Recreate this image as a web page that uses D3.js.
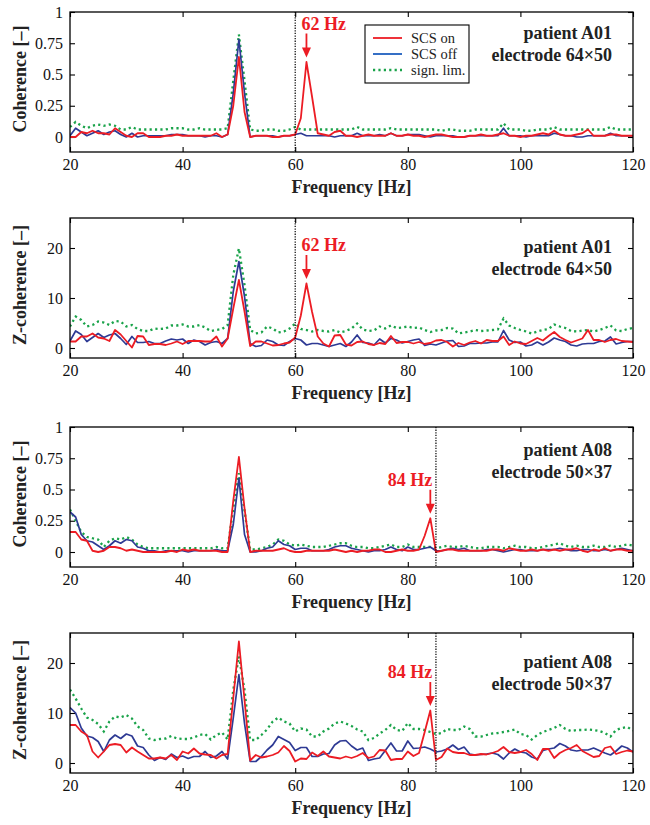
<!DOCTYPE html>
<html>
<head>
<meta charset="utf-8">
<script src="https://cdn.jsdelivr.net/npm/d3@7"></script>
<style>
  body { margin: 0; background: #fff; }
  text { font-family: "Liberation Serif", "Times New Roman", serif; }
</style>
</head>
<body>
<svg id="chart" width="650" height="825"></svg>
<script>
// frequency axis, 1 Hz bins
var freqs = d3.range(20, 121);
var freqTicks = [20, 40, 60, 80, 100, 120];
var cohTicks = [0, 0.25, 0.5, 0.75, 1];
var zTicks = [0, 10, 20];
var legendLabels = ["SCS on", "SCS off", "sign. lim."];

// patient A01, coherence
var cohA01On = [
  0.00, 0.00, 0.04, 0.03, 0.05, 0.03, 0.03, 0.02, 0.07, 0.04,
  0.01, 0.00, 0.03, 0.03, 0.00, 0.00, 0.00, 0.01, 0.01, 0.02,
  0.01, 0.01, 0.01, 0.01, 0.01, 0.01, 0.03, 0.00, 0.02, 0.25,
  0.64, 0.20, 0.00, 0.01, 0.01, 0.01, 0.00, 0.00, 0.01, 0.01,
  0.02, 0.15, 0.60, 0.32, 0.03, 0.02, 0.01, 0.04, 0.05, 0.01,
  0.01, 0.00, 0.01, 0.02, 0.01, 0.01, 0.01, 0.03, 0.01, 0.01,
  0.02, 0.01, 0.01, 0.00, 0.01, 0.02, 0.02, 0.01, 0.00, 0.00,
  0.00, 0.01, 0.01, 0.02, 0.01, 0.01, 0.02, 0.03, 0.01, 0.01,
  0.00, 0.01, 0.01, 0.02, 0.03, 0.02, 0.05, 0.02, 0.01, 0.01,
  0.02, 0.03, 0.06, 0.01, 0.01, 0.01, 0.02, 0.02, 0.01, 0.01,
  0.01];
var cohA01Off = [
  0.01, 0.07, 0.04, 0.01, 0.03, 0.05, 0.02, 0.04, 0.05, 0.02,
  0.00, 0.03, 0.00, 0.01, 0.01, 0.01, 0.01, 0.01, 0.02, 0.02,
  0.02, 0.01, 0.01, 0.01, 0.00, 0.01, 0.01, 0.00, 0.02, 0.35,
  0.78, 0.35, 0.00, 0.01, 0.01, 0.01, 0.01, 0.00, 0.01, 0.01,
  0.02, 0.03, 0.01, 0.01, 0.01, 0.01, 0.01, 0.00, 0.01, 0.01,
  0.01, 0.03, 0.01, 0.01, 0.01, 0.02, 0.01, 0.03, 0.01, 0.01,
  0.02, 0.02, 0.02, 0.01, 0.00, 0.01, 0.01, 0.01, 0.01, 0.00,
  0.00, 0.01, 0.01, 0.01, 0.01, 0.01, 0.01, 0.07, 0.01, 0.01,
  0.01, 0.00, 0.01, 0.01, 0.01, 0.01, 0.03, 0.02, 0.01, 0.01,
  0.00, 0.00, 0.01, 0.01, 0.01, 0.01, 0.03, 0.01, 0.01, 0.01,
  0.01];
var cohA01Lim = [
  0.08, 0.12, 0.09, 0.07, 0.09, 0.10, 0.09, 0.10, 0.09, 0.06,
  0.06, 0.08, 0.06, 0.06, 0.06, 0.06, 0.06, 0.06, 0.07, 0.07,
  0.07, 0.06, 0.06, 0.07, 0.06, 0.06, 0.06, 0.06, 0.07, 0.45,
  0.82, 0.45, 0.06, 0.05, 0.05, 0.06, 0.06, 0.05, 0.05, 0.06,
  0.08, 0.06, 0.06, 0.06, 0.06, 0.06, 0.06, 0.06, 0.06, 0.06,
  0.06, 0.08, 0.06, 0.06, 0.06, 0.06, 0.06, 0.07, 0.06, 0.06,
  0.06, 0.06, 0.06, 0.06, 0.06, 0.06, 0.05, 0.06, 0.06, 0.05,
  0.05, 0.05, 0.06, 0.06, 0.06, 0.06, 0.06, 0.11, 0.06, 0.06,
  0.06, 0.05, 0.05, 0.06, 0.06, 0.06, 0.08, 0.06, 0.06, 0.06,
  0.06, 0.06, 0.06, 0.06, 0.06, 0.06, 0.08, 0.06, 0.06, 0.06,
  0.06];

// patient A01, Z-coherence
var zA01On = [
  1.3, 1.3, 2.3, 2.3, 2.9, 2.1, 1.9, 1.4, 3.6, 2.7,
  1.4, 0.1, 2.4, 2.3, 0.6, 0.8, 0.8, 0.6, 0.9, 1.3,
  0.8, 1.4, 1.4, 1.4, 1.3, 1.3, 2.3, 0.3, 1.9, 7.9,
  13.6, 7.3, 0.4, 1.3, 1.3, 0.9, 0.5, 0.6, 0.9, 1.1,
  2.1, 6.5, 12.9, 7.2, 2.3, 0.9, 0.3, 2.5, 2.6, 0.7,
  0.5, 1.2, 1.3, 0.8, 0.6, 1.0, 0.8, 2.4, 1.0, 1.2,
  1.2, 0.9, 1.2, 0.8, 1.0, 1.5, 1.6, 1.2, 0.3, 1.0,
  0.6, 1.1, 1.4, 0.9, 1.6, 1.4, 1.4, 2.3, 0.6, 1.3,
  0.9, 0.8, 1.4, 2.0, 1.5, 2.4, 3.2, 2.2, 1.6, 1.1,
  1.5, 1.9, 3.6, 1.6, 1.6, 1.2, 1.6, 1.8, 1.4, 1.3,
  1.2];
var zA01Off = [
  1.4, 3.4, 2.7, 1.3, 2.1, 2.9, 2.1, 2.6, 2.9, 1.9,
  0.7, 2.3, 1.1, 1.1, 1.3, 0.9, 0.9, 1.4, 1.8, 1.6,
  1.8, 0.9, 1.6, 1.3, 0.6, 1.1, 1.3, 0.9, 1.9, 11.3,
  17.3, 10.3, 0.9, 0.3, 0.5, 1.6, 1.3, 0.6, 0.5, 1.3,
  1.9, 1.6, 0.6, 0.9, 0.9, 0.6, 0.3, 0.6, 0.9, 0.3,
  1.2, 2.6, 1.1, 1.0, 0.6, 1.8, 1.0, 1.9, 1.6, 1.0,
  1.3, 1.6, 1.8, 0.5, 0.8, 0.6, 1.0, 1.4, 1.5, 0.3,
  0.4, 0.9, 0.9, 1.0, 1.0, 1.2, 1.2, 3.5, 1.6, 1.1,
  1.2, 0.4, 0.6, 1.2, 0.6, 1.2, 2.0, 1.6, 1.3, 0.6,
  0.4, 0.8, 0.9, 0.9, 1.3, 1.4, 2.2, 0.8, 1.1, 1.3,
  1.3];
var zA01Lim = [
  4.3, 6.3, 5.6, 4.3, 4.6, 5.3, 5.1, 4.6, 5.4, 5.3,
  4.3, 4.6, 3.8, 3.4, 3.4, 3.9, 3.8, 3.9, 4.5, 4.5,
  4.7, 4.3, 4.3, 4.6, 4.1, 3.4, 3.6, 3.8, 4.6, 14.6,
  19.9, 12.6, 3.6, 2.9, 3.1, 4.3, 3.9, 3.1, 3.3, 3.9,
  4.9, 3.8, 3.6, 3.3, 3.6, 3.4, 3.3, 3.6, 3.1, 3.4,
  3.9, 4.9, 3.7, 3.4, 3.5, 4.3, 3.9, 4.5, 4.0, 4.1,
  4.3, 4.0, 4.1, 3.6, 3.2, 3.5, 3.6, 4.0, 3.9, 2.9,
  3.1, 3.3, 3.6, 3.4, 3.5, 3.6, 3.7, 5.9, 4.5, 4.0,
  3.6, 3.3, 2.9, 3.3, 3.6, 3.8, 4.7, 4.3, 4.0, 3.4,
  3.3, 3.5, 3.6, 3.3, 3.6, 4.0, 4.5, 3.5, 3.4, 3.8,
  4.0];

// patient A08, coherence
var cohA08On = [
  0.16, 0.16, 0.10, 0.09, 0.01, 0.00, 0.01, 0.04, 0.04, 0.03,
  0.01, 0.02, 0.01, 0.00, 0.00, 0.00, 0.00, 0.00, 0.01, 0.00,
  0.02, 0.01, 0.02, 0.01, 0.01, 0.01, 0.01, 0.00, 0.00, 0.41,
  0.76, 0.35, 0.00, 0.01, 0.01, 0.01, 0.01, 0.02, 0.03, 0.01,
  0.00, 0.00, 0.01, 0.01, 0.01, 0.01, 0.01, 0.02, 0.01, 0.00,
  0.01, 0.00, 0.01, 0.01, 0.02, 0.02, 0.00, 0.00, 0.01, 0.02,
  0.01, 0.01, 0.02, 0.13, 0.27, 0.00, 0.01, 0.02, 0.02, 0.01,
  0.01, 0.01, 0.01, 0.01, 0.01, 0.02, 0.02, 0.01, 0.03, 0.02,
  0.01, 0.01, 0.02, 0.01, 0.02, 0.01, 0.02, 0.01, 0.02, 0.02,
  0.03, 0.01, 0.00, 0.02, 0.01, 0.03, 0.01, 0.02, 0.02, 0.01,
  0.01];
var cohA08Off = [
  0.32, 0.28, 0.14, 0.09, 0.08, 0.05, 0.02, 0.05, 0.09, 0.07,
  0.10, 0.09, 0.04, 0.03, 0.01, 0.01, 0.00, 0.01, 0.01, 0.01,
  0.01, 0.00, 0.01, 0.01, 0.01, 0.01, 0.02, 0.01, 0.01, 0.22,
  0.59, 0.14, 0.00, 0.00, 0.01, 0.03, 0.04, 0.09, 0.06, 0.05,
  0.02, 0.03, 0.03, 0.01, 0.01, 0.01, 0.02, 0.04, 0.05, 0.05,
  0.03, 0.02, 0.01, 0.00, 0.01, 0.01, 0.02, 0.04, 0.02, 0.01,
  0.04, 0.02, 0.02, 0.03, 0.04, 0.01, 0.01, 0.02, 0.03, 0.02,
  0.03, 0.01, 0.01, 0.01, 0.02, 0.02, 0.01, 0.00, 0.01, 0.02,
  0.02, 0.01, 0.01, 0.01, 0.02, 0.02, 0.02, 0.03, 0.02, 0.01,
  0.01, 0.02, 0.02, 0.01, 0.01, 0.02, 0.01, 0.02, 0.03, 0.02,
  0.01];
var cohA08Lim = [
  0.34, 0.25, 0.16, 0.12, 0.11, 0.10, 0.04, 0.09, 0.11, 0.10,
  0.12, 0.10, 0.06, 0.04, 0.03, 0.03, 0.03, 0.03, 0.03, 0.03,
  0.03, 0.03, 0.03, 0.03, 0.03, 0.03, 0.04, 0.03, 0.03, 0.35,
  0.63, 0.33, 0.02, 0.02, 0.03, 0.04, 0.06, 0.10, 0.09, 0.06,
  0.05, 0.06, 0.05, 0.04, 0.04, 0.04, 0.05, 0.06, 0.07, 0.07,
  0.05, 0.04, 0.04, 0.03, 0.03, 0.04, 0.05, 0.06, 0.04, 0.04,
  0.06, 0.04, 0.04, 0.04, 0.04, 0.03, 0.04, 0.05, 0.04, 0.04,
  0.05, 0.04, 0.03, 0.03, 0.04, 0.04, 0.04, 0.03, 0.04, 0.05,
  0.04, 0.04, 0.03, 0.03, 0.04, 0.05, 0.06, 0.07, 0.05, 0.04,
  0.05, 0.04, 0.04, 0.05, 0.04, 0.04, 0.05, 0.04, 0.05, 0.06,
  0.05];

// patient A08, Z-coherence
var zA08On = [
  7.6, 7.6, 6.3, 5.6, 2.3, 1.1, 2.3, 3.6, 3.8, 3.6,
  2.1, 3.1, 2.3, 1.6, 0.9, 0.9, 1.1, 0.9, 1.6, 0.6,
  2.3, 1.9, 2.9, 1.9, 1.7, 1.6, 0.9, 1.6, 1.8, 13.0,
  24.3, 12.6, 0.5, 1.6, 1.1, 1.3, 1.6, 2.1, 3.4, 2.4,
  0.3, 0.9, 0.8, 2.1, 1.4, 2.3, 1.3, 1.1, 0.9, 1.3,
  1.0, 1.4, 2.0, 1.0, 1.3, 2.6, 2.5, 0.6, 0.8, 0.8,
  2.3, 1.4, 2.0, 6.2, 10.5, 0.6, 1.2, 2.9, 2.2, 2.0,
  2.0, 1.6, 1.6, 1.8, 1.7, 2.0, 2.4, 3.2, 2.2, 2.0,
  2.2, 2.6, 1.8, 0.6, 2.8, 2.8, 1.0, 2.0, 2.6, 3.0,
  3.6, 2.4, 1.8, 1.2, 1.4, 3.0, 3.3, 1.8, 2.2, 2.5,
  2.3];
var zA08Off = [
  11.1, 10.0, 7.0, 5.4, 5.1, 4.3, 2.3, 4.6, 5.6, 4.9,
  5.8, 5.4, 3.4, 3.1, 1.6, 0.5, 1.1, 0.7, 1.8, 1.1,
  1.4, 0.9, 1.3, 1.3, 2.3, 1.1, 1.4, 2.3, 0.8, 9.0,
  17.7, 7.9, 0.3, 0.3, 1.3, 2.6, 3.6, 5.3, 4.7, 4.1,
  2.5, 3.1, 3.1, 1.3, 1.3, 1.8, 1.9, 3.6, 4.4, 4.5,
  3.4, 2.6, 3.0, 0.5, 0.8, 1.0, 2.5, 4.0, 2.4, 2.4,
  4.4, 2.9, 3.0, 3.2, 2.8, 2.2, 2.4, 2.8, 3.6, 2.7,
  3.2, 1.8, 1.6, 1.7, 1.8, 2.0, 1.7, 0.8, 2.0, 2.8,
  2.2, 2.0, 1.2, 0.8, 2.5, 2.8, 3.0, 3.9, 3.4, 2.6,
  2.4, 2.6, 2.6, 3.0, 2.5, 2.0, 1.6, 2.4, 3.4, 3.0,
  2.2];
var zA08Lim = [
  14.7, 12.9, 10.9, 9.1, 8.6, 7.8, 6.3, 8.3, 9.3, 9.1,
  9.6, 8.9, 7.3, 6.6, 4.9, 4.6, 4.8, 4.9, 5.4, 4.9,
  4.8, 4.8, 5.1, 5.6, 5.8, 4.7, 5.6, 6.1, 4.7, 14.6,
  21.3, 14.6, 4.6, 4.6, 5.6, 6.7, 8.3, 9.1, 8.3, 7.9,
  6.3, 6.9, 6.7, 5.3, 5.3, 6.3, 6.9, 7.9, 8.3, 7.9,
  7.4, 6.7, 6.3, 4.6, 5.0, 5.9, 6.6, 7.6, 6.6, 6.4,
  8.0, 6.8, 6.8, 6.6, 6.2, 5.8, 6.0, 6.8, 6.6, 6.6,
  7.3, 6.8, 5.3, 5.3, 5.6, 5.9, 6.0, 6.2, 6.4, 6.7,
  5.8, 5.6, 4.7, 5.6, 6.2, 6.6, 7.0, 7.6, 6.8, 6.4,
  6.6, 6.6, 6.7, 6.6, 6.4, 6.0, 5.3, 6.6, 7.0, 7.2,
  6.5];

var colors = { on: "#ec1c24", off: "#2e3a94", offLegend: "#1f5fbf", lim: "#1aa34a" };

var panels = [
  { top: 12, kind: "coh", on: cohA01On, off: cohA01Off, lim: cohA01Lim, marker: 60, peak: 62,
    label: "62 Hz", anchor: "start", patient: "patient A01", electrode: "electrode 64×50", textDy: 27, legend: true },
  { top: 218, kind: "z", on: zA01On, off: zA01Off, lim: zA01Lim, marker: 60, peak: 62,
    label: "62 Hz", anchor: "start", patient: "patient A01", electrode: "electrode 64×50", textDy: 35 },
  { top: 427, kind: "coh", on: cohA08On, off: cohA08Off, lim: cohA08Lim, marker: 85, peak: 84,
    label: "84 Hz", anchor: "end", patient: "patient A08", electrode: "electrode 50×37", textDy: 29 },
  { top: 633, kind: "z", on: zA08On, off: zA08Off, lim: zA08Lim, marker: 85, peak: 84,
    label: "84 Hz", anchor: "end", patient: "patient A08", electrode: "electrode 50×37", textDy: 35 }
];

var svg = d3.select("#chart");
var left = 70, right = 633, ph = 140;
var x = d3.scaleLinear().domain([20, 120]).range([left, right]);

panels.forEach(function (p, i) {
  var isCoh = p.kind === "coh";
  var y = d3.scaleLinear()
    .domain(isCoh ? [-0.12, 1] : [-2, 26])
    .range([p.top + ph, p.top]);
  var ticks = isCoh ? cohTicks : zTicks;
  var g = svg.append("g");

  svg.append("clipPath").attr("id", "clip" + i)
    .append("rect").attr("x", left).attr("y", p.top).attr("width", right - left).attr("height", ph);

  // axes with inward ticks on all four sides
  var strip = function (sel) {
    sel.select(".domain").remove();
    sel.selectAll("line").attr("stroke", "#000").attr("stroke-width", 1.1);
    sel.selectAll("text").attr("font-size", 16).attr("fill", "#111")
      .style("font-family", "'Liberation Serif', serif");
  };
  g.append("g").attr("transform", "translate(0," + (p.top + ph) + ")")
    .call(d3.axisBottom(x).tickValues(freqTicks).tickSizeInner(-5).tickSizeOuter(0).tickPadding(7))
    .call(strip);
  g.append("g").attr("transform", "translate(0," + p.top + ")")
    .call(d3.axisTop(x).tickValues(freqTicks).tickSizeInner(-5).tickSizeOuter(0).tickFormat(""))
    .call(strip);
  g.append("g").attr("transform", "translate(" + left + ",0)")
    .call(d3.axisLeft(y).tickValues(ticks).tickSizeInner(-5).tickSizeOuter(0).tickPadding(7)
      .tickFormat(function (d) { return String(d); }))
    .call(strip);
  g.append("g").attr("transform", "translate(" + right + ",0)")
    .call(d3.axisRight(y).tickValues(ticks).tickSizeInner(-5).tickSizeOuter(0).tickFormat(""))
    .call(strip);

  // series
  var line = d3.line()
    .x(function (d, j) { return x(freqs[j]); })
    .y(function (d) { return y(d); });
  var plot = g.append("g").attr("clip-path", "url(#clip" + i + ")");
  plot.append("path").datum(p.lim).attr("d", line)
    .attr("fill", "none").attr("stroke", colors.lim).attr("stroke-width", 2.3)
    .attr("stroke-dasharray", "2.2,3.2");
  plot.append("path").datum(p.off).attr("d", line)
    .attr("fill", "none").attr("stroke", colors.off).attr("stroke-width", 1.7)
    .attr("stroke-linejoin", "round");
  plot.append("path").datum(p.on).attr("d", line)
    .attr("fill", "none").attr("stroke", colors.on).attr("stroke-width", 1.8)
    .attr("stroke-linejoin", "round");

  // dotted frequency marker
  g.append("line")
    .attr("x1", x(p.marker)).attr("x2", x(p.marker))
    .attr("y1", p.top).attr("y2", p.top + ph)
    .attr("stroke", "#000").attr("stroke-width", 1.2).attr("stroke-dasharray", "1.3,1.3");

  // box
  g.append("rect")
    .attr("x", left).attr("y", p.top).attr("width", right - left).attr("height", ph)
    .attr("fill", "none").attr("stroke", "#000").attr("stroke-width", 1.3);

  // peak annotation
  var px = x(p.peak);
  var tip = y(p.on[freqs.indexOf(p.peak)]) - 4.5;
  g.append("line").attr("x1", px).attr("x2", px).attr("y1", tip - 24).attr("y2", tip - 7)
    .attr("stroke", colors.on).attr("stroke-width", 1.8);
  g.append("path")
    .attr("d", "M" + px + "," + tip + "L" + (px - 4.5) + "," + (tip - 10) + "L" + (px + 4.5) + "," + (tip - 10) + "Z")
    .attr("fill", colors.on);
  g.append("text")
    .attr("x", p.anchor === "start" ? px - 5 : px + 2)
    .attr("y", tip - 28)
    .attr("text-anchor", p.anchor)
    .attr("font-size", 18).attr("font-weight", "bold").attr("fill", colors.on)
    .text(p.label);

  // patient / electrode
  g.append("text").attr("x", 612).attr("y", p.top + p.textDy)
    .attr("text-anchor", "end").attr("font-size", 18).attr("font-weight", "bold").attr("fill", "#222")
    .text(p.patient);
  g.append("text").attr("x", 612).attr("y", p.top + p.textDy + 22)
    .attr("text-anchor", "end").attr("font-size", 18).attr("font-weight", "bold").attr("fill", "#222")
    .text(p.electrode);

  // axis titles
  g.append("text").attr("x", (left + right) / 2).attr("y", p.top + ph + 41)
    .attr("text-anchor", "middle").attr("font-size", 18).attr("font-weight", "bold").attr("fill", "#222")
    .text("Frequency [Hz]");
  g.append("text")
    .attr("transform", "translate(26," + (p.top + ph / 2 - 3) + ") rotate(-90)")
    .attr("text-anchor", "middle").attr("font-size", 18).attr("font-weight", "bold").attr("fill", "#222")
    .text(isCoh ? "Coherence [–]" : "Z-coherence [–]");

  if (p.legend) {
    var lg = g.append("g").attr("transform", "translate(365,25)");
    lg.append("rect").attr("width", 104).attr("height", 58)
      .attr("fill", "#fff").attr("stroke", "#000").attr("stroke-width", 1.1);
    var styles = [
      { c: colors.on, dash: null, w: 1.8 },
      { c: colors.offLegend, dash: null, w: 1.8 },
      { c: colors.lim, dash: "2.2,3.2", w: 2.3 }
    ];
    legendLabels.forEach(function (lab, k) {
      var ly = 13 + k * 16;
      lg.append("line").attr("x1", 8).attr("x2", 37).attr("y1", ly).attr("y2", ly)
        .attr("stroke", styles[k].c).attr("stroke-width", styles[k].w)
        .attr("stroke-dasharray", styles[k].dash);
      lg.append("text").attr("x", 46).attr("y", ly + 5)
        .attr("font-size", 14.5).attr("fill", "#222").text(lab);
    });
  }
});
</script>
</body>
</html>
